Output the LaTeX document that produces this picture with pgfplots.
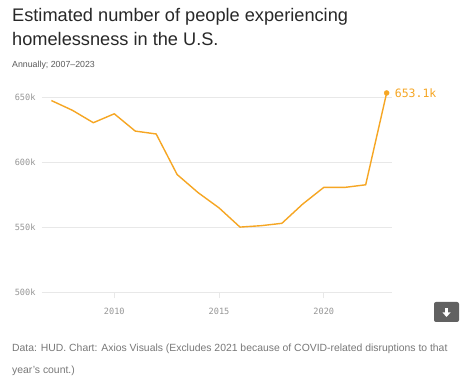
\documentclass[border=0pt]{standalone}
\usepackage{pgfplots}
\pgfplotsset{compat=1.18}
\usepackage{fontspec}
\setmainfont{Liberation Sans}
\newfontfamily\monof{DejaVu Sans Mono}
\definecolor{axorange}{RGB}{246,166,35}
\definecolor{titlec}{RGB}{40,40,40}
\definecolor{subc}{RGB}{90,90,90}
\definecolor{footc}{RGB}{120,120,120}
\definecolor{tickc}{RGB}{150,150,150}
\definecolor{gridc}{RGB}{232,232,232}
\begin{document}
\begin{tikzpicture}
\path[fill=white] (0pt,0pt) rectangle (474pt,383pt);
% title
\node[anchor=base west, inner sep=0pt, text=titlec, font=\fontsize{18.2}{24}\selectfont] at (12pt,361pt) {Estimated number of people experiencing};
\node[anchor=base west, inner sep=0pt, text=titlec, font=\fontsize{18.2}{24}\selectfont] at (12pt,337pt) {homelessness in the U.S.};
\node[anchor=base west, inner sep=0pt, text=subc, font=\fontsize{8.8}{10}\selectfont] at (12pt,315.5pt) {Annually; 2007–2023};
\begin{axis}[
  at={(42pt,91pt)}, anchor=south west,
  x=20.95pt, y=1.3pt,
  xmin=2006.55, xmax=2023.25,
  ymin=500, ymax=655,
  clip=false,
  axis line style={draw=none},
  ymajorgrids, major grid style={gridc, line width=0.8pt},
  ytick={500,550,600,650},
  yticklabels={500k,550k,600k,650k},
  xtick={2010,2015,2020},
  xticklabels={2010,2015,2020},
  tick style={gridc, line width=0.8pt},
  ytick style={draw=none},
  xtick pos=bottom, tick align=outside,
  major tick length=6pt,
  ticklabel style={font=\monof\fontsize{8.6}{10}\selectfont, text=tickc},
  yticklabel style={xshift=3pt},
  xticklabel style={yshift=-7pt},
]
\addplot[axorange, line width=1.4pt, line join=round] coordinates {
(2007,647.258) (2008,639.784) (2009,630.227) (2010,637.077) (2011,623.788)
(2012,621.553) (2013,590.364) (2014,576.450) (2015,564.708) (2016,549.928)
(2017,550.996) (2018,552.830) (2019,567.715) (2020,580.466) (2021,580.466)
(2022,582.462) (2023,653.104)
};
\addplot[only marks, mark=*, mark size=2.5pt, axorange, mark options={draw=axorange, fill=axorange}] coordinates {(2023,653.104)}
  node[anchor=west, xshift=8pt, inner sep=0pt, text=axorange, font=\monof\fontsize{11.5}{13}\selectfont] {653.1k};
\end{axis}
% download button
\fill[black!62, rounded corners=2pt] (434pt,61pt) rectangle (459pt,81pt);
\fill[white] (445pt,75pt) rectangle (448pt,70pt);
\fill[white] (442.5pt,70.5pt) -- (450.5pt,70.5pt) -- (446.5pt,66pt) -- cycle;
% footer
\node[anchor=base west, inner sep=0pt, text=footc, font=\fontsize{10.4}{12}\selectfont] at (12pt,31pt) {Data: HUD. Chart: Axios Visuals (Excludes 2021 because of COVID-related disruptions to that};
\node[anchor=base west, inner sep=0pt, text=footc, font=\fontsize{10.4}{12}\selectfont] at (12pt,9.5pt) {year's count.)};
\end{tikzpicture}
\end{document}
